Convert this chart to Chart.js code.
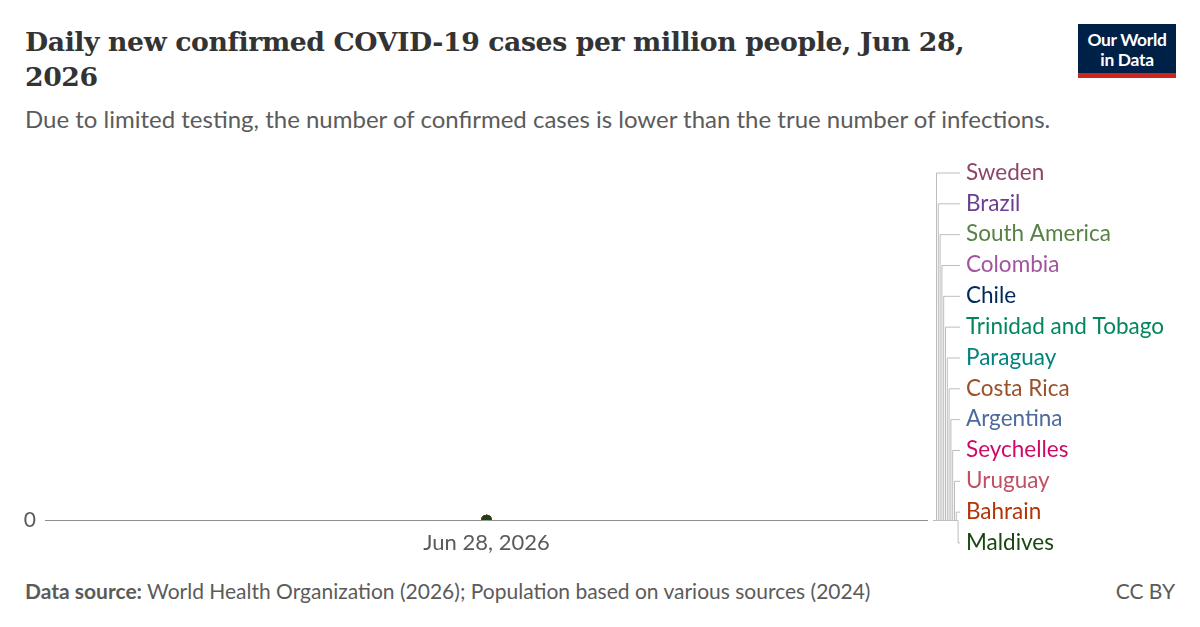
<!DOCTYPE html>
<html lang="en">
<head>
<meta charset="UTF-8">
<title>Daily new confirmed COVID-19 cases per million people</title>
<script src="https://cdn.jsdelivr.net/npm/chart.js@4.4.0/dist/chart.umd.min.js"></script>
<style>
  body { margin: 0; width: 1200px; height: 627px; background: #fff; position: relative; overflow: hidden; font-family: Lato, "Noto Sans", sans-serif; }
  #title { position: absolute; left: 25px; top: 24px; width: 1000px; font-family: "DejaVu Serif", serif; font-weight: bold; font-size: 26.7px; line-height: 35px; color: #333; letter-spacing: -0.4px; }
  #subtitle { position: absolute; left: 25px; top: 104px; font-size: 24px; color: #5b5b5b; white-space: nowrap; }
  #logo { position: absolute; left: 1078px; top: 24px; width: 98px; background: #002147; border-bottom: 5px solid #ce261e; color: #fff; font-weight: bold; font-size: 17.4px; line-height: 20px; text-align: center; padding-top: 6px; height: 43px; letter-spacing: -0.3px; }
  #foot { position: absolute; left: 25px; top: 578px; font-size: 21px; color: #5b5b5b; white-space: nowrap; }
  #cc { position: absolute; right: 25px; top: 578px; font-size: 21px; color: #5b5b5b; }
  #chart { position: absolute; left: 0; top: 140px; }
</style>
</head>
<body>
<div id="title">Daily new confirmed COVID-19 cases per million people, Jun 28,<br>2026</div>
<div id="subtitle">Due to limited testing, the number of confirmed cases is lower than the true number of infections.</div>
<div id="logo">Our World<br>in Data</div>
<canvas id="chart" width="1200" height="430"></canvas>
<div id="foot"><b>Data source:</b> World Health Organization (2026); Population based on various sources (2024)</div>
<div id="cc">CC BY</div>

<script>
// one date only, every entity at zero
const dates = ['Jun 28, 2026'];
const entities = ['Sweden', 'Brazil', 'South America', 'Colombia', 'Chile', 'Trinidad and Tobago',
  'Paraguay', 'Costa Rica', 'Argentina', 'Seychelles', 'Uruguay', 'Bahrain', 'Maldives'];
const values = [[0], [0], [0], [0], [0], [0], [0], [0], [0], [0], [0], [0], [0]];
const colors = ['#8c4569', '#6d3e91', '#578145', '#a2559c', '#00295b', '#00875e',
  '#00847e', '#9a5129', '#4c6a9c', '#cf0a66', '#c15065', '#b13507', '#18470f'];
const yTicks = [0];

// right hand labels with elbow connectors
const labelPlugin = {
  id: 'entityLabels',
  afterDraw(chart) {
    const ctx = chart.ctx;
    const y0 = chart.scales.y.getPixelForValue(0);
    const startX = chart.chartArea.right + 5;
    const textX = 966;
    const firstY = 32.5, step = 30.83;
    ctx.save();
    ctx.lineWidth = 1;
    ctx.strokeStyle = '#bdbdbd';
    ctx.font = '22.5px Lato';
    ctx.textBaseline = 'middle';
    entities.forEach((name, i) => {
      const ly = firstY + i * step;
      const vx = 936.5 + i * 1.8;
      ctx.beginPath();
      ctx.moveTo(startX, y0 + 0.5);
      ctx.lineTo(vx, y0 + 0.5);
      ctx.lineTo(vx, ly + 0.5);
      ctx.lineTo(960, ly + 0.5);
      ctx.stroke();
      ctx.fillStyle = colors[i];
      ctx.fillText(name, textX, ly);
    });
    ctx.restore();
  }
};

new Chart(document.getElementById('chart'), {
  type: 'line',
  data: {
    labels: dates,
    datasets: entities.map((name, i) => ({
      label: name,
      data: values[i],
      order: entities.length - i,
      borderColor: colors[i],
      backgroundColor: colors[i],
      pointRadius: 4.5,
      pointHoverRadius: 4.5,
      borderWidth: 1.5
    }))
  },
  options: {
    responsive: false,
    animation: false,
    layout: { padding: { left: 0, right: 272, top: 20, bottom: 0 } },
    plugins: { legend: { display: false }, tooltip: { enabled: false } },
    scales: {
      x: {
        type: 'category',
        offset: true,
        grid: { display: false, drawTicks: false },
        border: { display: false },
        ticks: { color: '#5b5b5b', font: { family: 'Lato', size: 22 }, padding: 10, maxRotation: 0 },
        afterFit(scale) { scale.height = 50; }
      },
      y: {
        min: 0,
        max: 1,
        grid: { color: '#8f8f8f', lineWidth: 1, drawTicks: false },
        border: { display: false },
        ticks: { color: '#5b5b5b', font: { family: 'Lato', size: 21 }, padding: 9 },
        afterBuildTicks(scale) { scale.ticks = yTicks.map(v => ({ value: v })); },
        afterFit(scale) { scale.width = 45; }
      }
    }
  },
  plugins: [labelPlugin]
});
</script>
</body>
</html>
